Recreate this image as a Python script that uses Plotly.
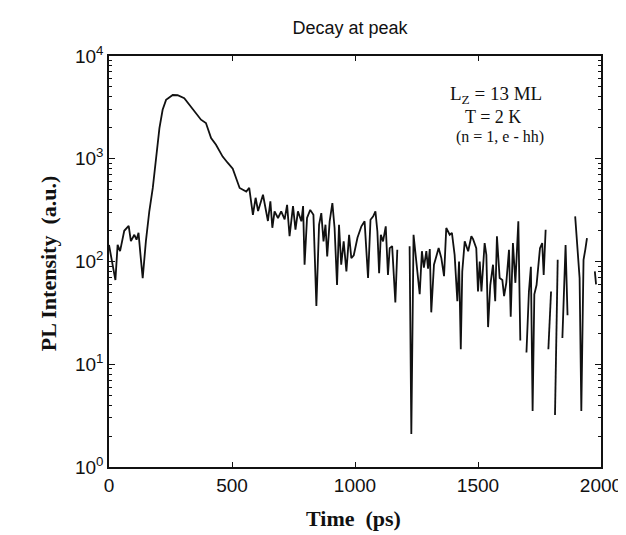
import plotly.graph_objects as go

# Time (ps) and PL intensity (a.u.); None marks points not shown on the log axis
time_ps = [0, 26, 35, 45, 62, 80, 89, 103, 112, 120, 128, 137, 150, 164, 178, 191, 205, 218, 232,
           259, 279, 306, 333, 354, 374, 394, 415, 435, 462, 483, 503, 531, 558, 570, 585, 596,
           606, 626, 646, 656, 664, 673, 687, 700, 714, 724, 734, 748, 758, 768, 782, 789, 795,
           805, 818, 831, 843, 854, 863, 872, 880, 887, 897, 908, 917, 927, 935, 944, 954, 965,
           976, 985, 995, 1010, 1026, 1039, 1053, 1063, 1074, 1083, 1091, 1098, 1105, 1114, 1125,
           1134, 1141, 1151, 1159, 1164, 1172, 1185, 1222, 1229, 1238, 1249, 1263, 1272, 1280,
           1290, 1297, 1304, 1310, 1321, 1332, 1340, 1351, 1362, 1371, 1385, 1394, 1405, 1416,
           1423, 1430, 1436, 1446, 1460, 1473, 1480, 1493, 1500, 1507, 1514, 1527, 1534, 1541,
           1550, 1561, 1570, 1577, 1588, 1599, 1606, 1615, 1626, 1633, 1642, 1652, 1664, 1672,
           1685, 1697, 1707, 1715, 1722, 1729, 1738, 1752, 1761, 1767, 1775, 1780, 1786, 1797,
           1805, 1813, 1824, 1834, 1843, 1856, 1864, 1880, 1895, 1906, 1913, 1920, 1929, 1936,
           1943, 1960, 1975, 1980]
intensity = [145, 66, 145, 126, 199, 222, 158, 182, 163, 190, 116, 69, 158, 310, 520, 950, 1990, 3000, 3740,
             4170, 4150, 3890, 3240, 2800, 2400, 2230, 1590, 1370, 1050, 910, 800, 520, 480, 520, 285, 417,
             310, 446, 248, 385, 213, 308, 265, 308, 257, 356, 176, 346, 204, 308, 246, 346, 93,
             266, 318, 285, 37, 228, 296, 157, 228, 112, 246, 370, 212, 59, 228, 93, 157, 80,
             182, 108, 115, 170, 220, 246, 69, 255, 275, 308, 196, 77, 182, 157, 220,
             74, 135, 141, 59, 40, 130, None, 141, 2.1, 182, 108, 48, 126, 87,
             126, 85, 132, 32, 93, 116, 135, 108, 72, 212, 182, 190, 116, 41,
             100, 14, 80, 157, 126, 176, 165, 135, 51, 100, 51, 151, 116, 23,
             59, 93, 41, 176, 69, 66, 46, 62, 130, 29, 151, 62, 246, 17,
             None, 13, 51, 89, 3.5, 48, 59, 135, 151, 74, 204, None, 14, 51,
             None, 3.2, 104, None, 18, 145, 30, None, 275, 108, 69, 3.5, 104, 130,
             169, None, 80, 60]

x_ticks = [0, 500, 1000, 1500, 2000]
y_ticks = [1, 10, 100, 1000, 10000]
y_tick_text = ["10<sup>0</sup>", "10<sup>1</sup>", "10<sup>2</sup>", "10<sup>3</sup>", "10<sup>4</sup>"]
y_minor = [m * 10 ** d for d in range(4) for m in range(2, 10)]

fig = go.Figure()
fig.add_trace(go.Scatter(x=time_ps, y=intensity, mode="lines",
                         line=dict(color="#111111", width=1.8), connectgaps=False,
                         showlegend=False))

axis_common = dict(showline=True, linecolor="#111111", linewidth=1.5, mirror="ticks",
                   ticks="inside", tickcolor="#111111", showgrid=False, zeroline=False,
                   tickfont=dict(family="Liberation Sans, Arial", size=19, color="#111111"))

fig.update_layout(
    width=626, height=535,
    margin=dict(l=101, r=33, t=48, b=76),
    paper_bgcolor="white", plot_bgcolor="white",
    title=dict(text="Decay at peak", x=0.49, xref="paper", xanchor="center",
               y=1 - 20 / 535, yanchor="middle",
               font=dict(family="Liberation Sans, Arial", size=18, color="#111111")),
    xaxis=dict(range=[0, 2000], tickvals=x_ticks, ticklen=5, **axis_common),
    yaxis=dict(type="log", range=[0, 4], tickvals=y_ticks, ticktext=y_tick_text, ticklen=6,
               minor=dict(tickvals=y_minor, ticks="inside", ticklen=3, tickcolor="#111111"),
               **axis_common),
)

serif = "Liberation Serif, Times New Roman"
fig.add_annotation(text="<b>Time  (ps)</b>", xref="paper", yref="paper", x=0.496, y=-0.1265,
                   xanchor="center", yanchor="middle", showarrow=False,
                   font=dict(family=serif, size=22, color="#111111"))
fig.add_annotation(text="<b>PL Intensity  (a.u.)</b>", xref="paper", yref="paper", x=-0.124, y=0.496,
                   xanchor="center", yanchor="middle", textangle=-90, showarrow=False,
                   font=dict(family=serif, size=22, color="#111111"))
fig.add_annotation(text="L<sub>Z</sub> = 13 ML", xref="paper", yref="paper", x=0.69, y=0.904,
                   xanchor="left", yanchor="middle", showarrow=False,
                   font=dict(family=serif, size=19, color="#111111"))
fig.add_annotation(text="T = 2 K", xref="paper", yref="paper", x=0.78, y=0.852,
                   xanchor="center", yanchor="middle", showarrow=False,
                   font=dict(family=serif, size=18, color="#111111"))
fig.add_annotation(text="(n = 1, e - hh)", xref="paper", yref="paper", x=0.795, y=0.803,
                   xanchor="center", yanchor="middle", showarrow=False,
                   font=dict(family=serif, size=16, color="#111111"))

fig.write_html("out.html")
